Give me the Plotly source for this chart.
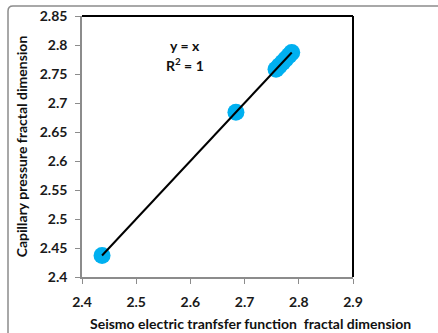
import numpy as np
import plotly.graph_objects as go

# Fractal dimensions from two methods
seismo_fd = [2.437, 2.684, 2.758, 2.764, 2.770, 2.776, 2.782, 2.787]
capillary_fd = [2.437, 2.684, 2.758, 2.764, 2.770, 2.776, 2.782, 2.787]

x_ticks = [2.4, 2.5, 2.6, 2.7, 2.8, 2.9]
y_ticks = [2.4, 2.45, 2.5, 2.55, 2.6, 2.65, 2.7, 2.75, 2.8, 2.85]

x_title = "Seismo electric tranfsfer function  fractal dimension"
y_title = "Capillary pressure fractal dimension"

# Linear trend through the data
slope, intercept = np.polyfit(seismo_fd, capillary_fd, 1)
x_fit = np.array([min(seismo_fd), max(seismo_fd)])
y_fit = slope * x_fit + intercept

W, H = 438, 333
L, R, T, B = 82, 85, 16, 56
pw, ph = W - L - R, H - T - B

def px(xpix):
    return (xpix - L) / pw

def py(ypix):
    return (H - B - ypix) / ph

font_family = "Lato, 'Open Sans', Arial, sans-serif"

fig = go.Figure()
fig.add_trace(go.Scatter(
    x=seismo_fd, y=capillary_fd, mode="markers",
    marker=dict(size=17, color="#00B0F0", line=dict(width=0)),
    hoverinfo="x+y", showlegend=False,
))
fig.add_trace(go.Scatter(
    x=x_fit, y=y_fit, mode="lines",
    line=dict(color="black", width=2), showlegend=False,
))

axis_common = dict(
    showgrid=False, zeroline=False, showline=True, linecolor="#8c8c8c",
    linewidth=1.5, ticks="outside", ticklen=5, tickcolor="#8c8c8c",
    tickfont=dict(family=font_family, size=14, color="#1a1a1a"),
    automargin=False,
)

fig.update_xaxes(
    range=[2.4, 2.9], tickvals=x_ticks,
    ticktext=[f"<b>{v:g}</b>" for v in x_ticks], ticklabelstandoff=6,
    **axis_common,
)
fig.update_yaxes(
    range=[2.4, 2.85], tickvals=y_ticks,
    ticktext=[f"<b>{v:g}</b>" for v in y_ticks], ticklabelstandoff=5,
    title=dict(text=f"<b>{y_title}</b>",
               font=dict(family=font_family, size=14, color="#111111"), standoff=9),
    **axis_common,
)

# outer rounded frame
x0, y0 = px(8), py(6)
x1, y1 = px(445), py(345)
r = 5 / pw
rv = 5 / ph
frame_path = (f"M {x0},{y1} L {x0},{y0 - rv} Q {x0},{y0} {x0 + r},{y0} L {x1},{y0}")

label_font = dict(family=font_family, size=14, color="#111111")

fig.update_layout(
    width=W, height=H,
    margin=dict(l=L, r=R, t=T, b=B),
    paper_bgcolor="white", plot_bgcolor="white",
    shapes=[
        dict(type="path", xref="paper", yref="paper", path=frame_path,
             line=dict(color="#8c8c8c", width=1.5), layer="below"),
        # top and right borders of the plot area
        dict(type="line", xref="paper", yref="paper", x0=0, x1=1, y0=1, y1=1,
             line=dict(color="black", width=2)),
        dict(type="line", xref="paper", yref="paper", x0=1, x1=1, y0=0, y1=1,
             line=dict(color="black", width=2)),
    ],
    annotations=[
        dict(xref="paper", yref="paper", x=px(185), y=py(45), showarrow=False,
             xanchor="center", yanchor="middle",
             text="<b>y = x</b>", font=label_font),
        dict(xref="paper", yref="paper", x=px(185), y=py(64), showarrow=False,
             xanchor="center", yanchor="middle",
             text="<b>R<sup>2</sup> = 1</b>", font=label_font),
        # x-axis title, placed slightly right of the plot centre
        dict(xref="paper", yref="paper", x=px(250), y=py(323), showarrow=False,
             xanchor="center", yanchor="middle",
             text=f"<b>{x_title}</b>", font=label_font),
    ],
)

fig.write_html("out.html")
